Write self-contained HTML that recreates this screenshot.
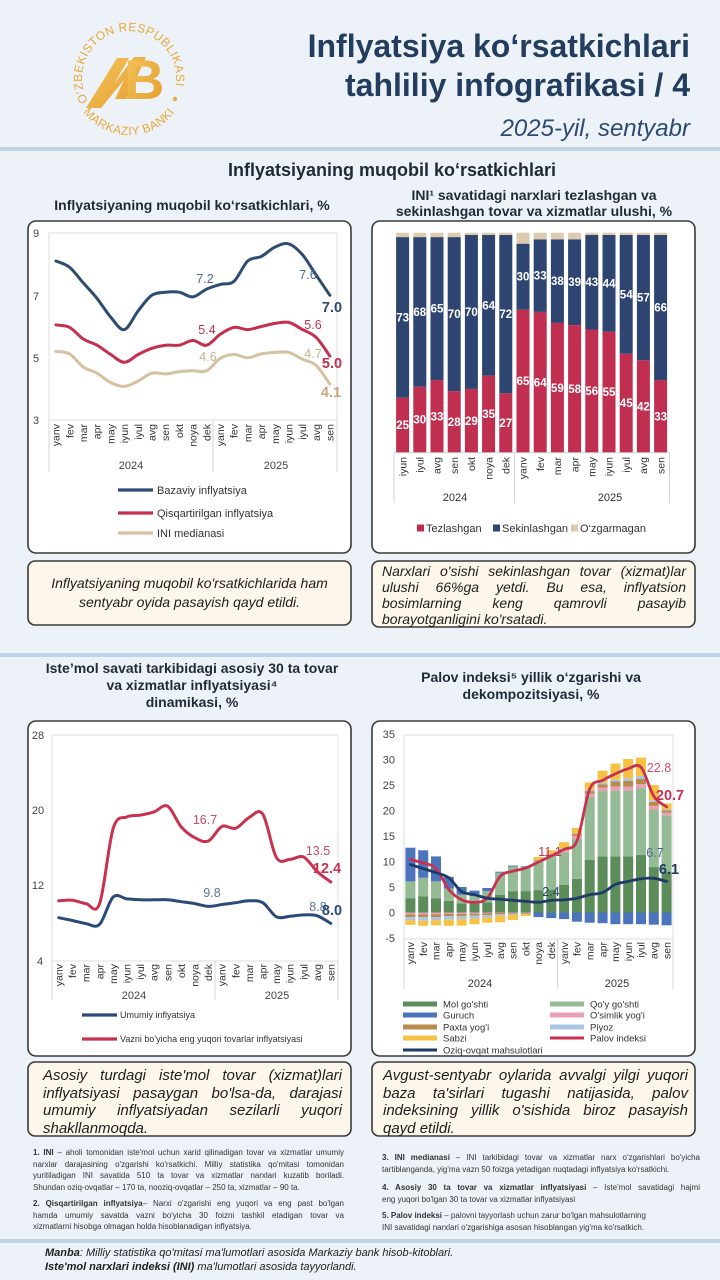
<!DOCTYPE html>
<html><head><meta charset="utf-8">
<style>
html,body{margin:0;padding:0}
body{width:720px;height:1280px;position:relative;overflow:hidden;background:#edf2f8;font-family:"Liberation Sans",Arial,sans-serif;}
svg{position:absolute;left:0;top:0}
.p{position:absolute;font-style:italic;color:#1e1e1e;}
.j{text-align:justify;text-align-last:justify;}
.fn{position:absolute;font-size:8px;color:#333;line-height:11.6px;}
.fn div{white-space:nowrap}
.fn .j{white-space:normal}
.mb{position:absolute;left:45px;top:1246px;font-size:11px;font-style:italic;color:#1e1e1e;line-height:14px;}
</style></head>
<body>
<svg width="720" height="1280" viewBox="0 0 720 1280" font-family="Liberation Sans, Arial, sans-serif">
<defs>
<linearGradient id="gold" x1="0" y1="0" x2="1" y2="1"><stop offset="0" stop-color="#f5c65c"/><stop offset="1" stop-color="#e29d2e"/></linearGradient>
<path id="arcTop" d="M90.5,105 A47,47 0 1,1 174.4,90.2" fill="none"/>
<path id="arcBot" d="M77.3,102.1 A57,57 0 0,0 180.7,102.1" fill="none"/>
</defs>

<!-- logo -->
<g fill="#e8a83a">
<text font-size="12" letter-spacing="0.4"><textPath href="#arcTop" startOffset="50%" text-anchor="middle">O‘ZBEKISTON RESPUBLIKASI</textPath></text>
<text font-size="12" letter-spacing="0.4"><textPath href="#arcBot" startOffset="50%" text-anchor="middle">MARKAZIY BANKI</textPath></text>
<circle cx="175" cy="99" r="2.2"/>
</g>
<polygon points="86,108 117,58 129,58 114,84 134,57 146,57 127,99 115,99 124,80 101,108" fill="url(#gold)"/>
<text x="124" y="99" font-size="56" font-weight="bold" fill="url(#gold)">B</text>

<!-- header title -->
<g fill="#223d5e" text-anchor="end">
<text x="690" y="57" font-size="32" font-weight="bold">Inflyatsiya ko‘rsatkichlari</text>
<text x="690" y="96" font-size="32" font-weight="bold">tahliliy infografikasi / 4</text>
<text x="690" y="136" font-size="24" font-style="italic" fill="#2b4a74">2025-yil, sentyabr</text>
</g>

<!-- separators -->
<rect x="0" y="147" width="720" height="4" fill="#bfd2e6"/>
<rect x="0" y="653" width="720" height="4" fill="#bfd2e6"/>
<rect x="0" y="1239" width="720" height="4" fill="#bfd2e6"/>

<!-- section / chart titles -->
<g fill="#1f2a36" font-weight="bold" text-anchor="middle">
<text x="392" y="176" font-size="18">Inflyatsiyaning muqobil ko‘rsatkichlari</text>
<text x="192" y="210" font-size="14">Inflyatsiyaning muqobil ko‘rsatkichlari, %</text>
<text x="534" y="200" font-size="14">INI¹ savatidagi narxlari tezlashgan va</text>
<text x="534" y="216" font-size="14">sekinlashgan tovar va xizmatlar ulushi, %</text>
<text x="192" y="673" font-size="14">Iste’mol savati tarkibidagi asosiy 30 ta tovar</text>
<text x="192" y="690" font-size="14">va xizmatlar inflyatsiyasi⁴</text>
<text x="192" y="707" font-size="14">dinamikasi, %</text>
<text x="531" y="682" font-size="14">Palov indeksi⁵ yillik o‘zgarishi va</text>
<text x="531" y="699" font-size="14">dekompozitsiyasi, %</text>
</g>

<!-- boxes -->
<g stroke="#3a3a3a" stroke-width="1.6">
<rect x="28" y="221" width="323" height="332" rx="8" fill="#fff"/>
<rect x="372" y="221" width="323" height="332" rx="8" fill="#fff"/>
<rect x="28" y="561" width="323" height="64" rx="7" fill="#fdf6ea"/>
<rect x="372" y="561" width="323" height="66" rx="7" fill="#fdf6ea"/>
<rect x="28" y="721" width="323" height="335" rx="8" fill="#fff"/>
<rect x="372" y="721" width="323" height="335" rx="8" fill="#fff"/>
<rect x="28" y="1062" width="323" height="74" rx="7" fill="#fdf6ea"/>
<rect x="372" y="1062" width="323" height="74" rx="7" fill="#fdf6ea"/>
</g>

<!-- ================= CHART 1 ================= -->
<rect x="49" y="233" width="288" height="187" fill="none" stroke="#dedede" stroke-width="1"/>
<g stroke="#d4d4d4" stroke-width="1"><line x1="49" y1="420" x2="49" y2="472"/><line x1="213" y1="420" x2="213" y2="472"/><line x1="337" y1="420" x2="337" y2="472"/></g>
<g font-size="11" fill="#444" text-anchor="middle">
<text x="36" y="237">9</text><text x="36" y="300">7</text><text x="36" y="362">5</text><text x="36" y="424">3</text>
<text x="131" y="469">2024</text><text x="276" y="469">2025</text>
</g>
<g font-size="10.5" fill="#333" text-anchor="end">
<text transform="translate(55.9,424) rotate(-90)" dy="0.35em">yanv</text>
<text transform="translate(69.6,424) rotate(-90)" dy="0.35em">fev</text>
<text transform="translate(83.3,424) rotate(-90)" dy="0.35em">mar</text>
<text transform="translate(97,424) rotate(-90)" dy="0.35em">apr</text>
<text transform="translate(110.7,424) rotate(-90)" dy="0.35em">may</text>
<text transform="translate(124.4,424) rotate(-90)" dy="0.35em">iyun</text>
<text transform="translate(138.1,424) rotate(-90)" dy="0.35em">iyul</text>
<text transform="translate(151.8,424) rotate(-90)" dy="0.35em">avg</text>
<text transform="translate(165.5,424) rotate(-90)" dy="0.35em">sen</text>
<text transform="translate(179.2,424) rotate(-90)" dy="0.35em">okt</text>
<text transform="translate(192.9,424) rotate(-90)" dy="0.35em">noya</text>
<text transform="translate(206.6,424) rotate(-90)" dy="0.35em">dek</text>
<text transform="translate(220.3,424) rotate(-90)" dy="0.35em">yanv</text>
<text transform="translate(234,424) rotate(-90)" dy="0.35em">fev</text>
<text transform="translate(247.7,424) rotate(-90)" dy="0.35em">mar</text>
<text transform="translate(261.4,424) rotate(-90)" dy="0.35em">apr</text>
<text transform="translate(275.1,424) rotate(-90)" dy="0.35em">may</text>
<text transform="translate(288.8,424) rotate(-90)" dy="0.35em">iyun</text>
<text transform="translate(302.5,424) rotate(-90)" dy="0.35em">iyul</text>
<text transform="translate(316.2,424) rotate(-90)" dy="0.35em">avg</text>
<text transform="translate(329.9,424) rotate(-90)" dy="0.35em">sen</text>
</g>
<g fill="none" stroke-width="3" stroke-linejoin="round" stroke-linecap="round">
<polyline class="sm" stroke="#d5c1a0" points="55.9,351.4 69.6,353.9 83.3,367 97,373.2 110.7,382.6 124.4,386.3 138.1,381 151.8,373.2 165.5,373.9 179.2,371.7 192.9,370.8 206.6,370.8 220.3,358.3 234,354.5 247.7,357.7 261.4,353.9 275.1,352.4 288.8,352.4 302.5,359.2 316.2,365.5 329.9,384.2"/>
<polyline class="sm" stroke="#c5304f" points="55.9,324.9 69.6,327.4 83.3,339 97,345.2 110.7,354.5 124.4,362.3 138.1,354.5 151.8,348.3 165.5,345.2 179.2,345.2 192.9,340.5 206.6,345.2 220.3,334.3 234,327.4 247.7,329.6 261.4,326.5 275.1,323.4 288.8,322.4 302.5,329.6 316.2,337.4 329.9,356.1"/>
<polyline class="sm" stroke="#2e4b74" points="55.9,261 69.6,267.3 83.3,282.9 97,298.4 110.7,317.1 124.4,329.6 138.1,310.9 151.8,295.3 165.5,292.2 179.2,292.2 192.9,296.9 206.6,289.1 220.3,284.4 234,281.3 247.7,261 261.4,256.4 275.1,247 288.8,243.9 302.5,254.8 316.2,275.1 329.9,295.3"/>
</g>
<g font-size="12.5" text-anchor="middle">
<text x="205" y="283" fill="#4a6890">7.2</text>
<text x="308" y="279" fill="#4a6890">7.6</text>
<text x="332" y="312" fill="#2e4b74" font-weight="bold" font-size="14.5">7.0</text>
<text x="207" y="334" fill="#c5304f">5.4</text>
<text x="313" y="329" fill="#c5304f">5.6</text>
<text x="332" y="368" fill="#c5304f" font-weight="bold" font-size="14.5">5.0</text>
<text x="208" y="361" fill="#c9b28e">4.6</text>
<text x="313" y="358" fill="#c9b28e">4.7</text>
<text x="331" y="397" fill="#c4a679" font-weight="bold" font-size="14.5">4.1</text>
</g>
<g stroke-width="3.2">
<line x1="118" y1="490" x2="153" y2="490" stroke="#2e4b74"/>
<line x1="118" y1="513" x2="153" y2="513" stroke="#c5304f"/>
<line x1="118" y1="533" x2="153" y2="533" stroke="#d5c1a0"/>
</g>
<g font-size="11" fill="#333">
<text x="157" y="494">Bazaviy inflyatsiya</text>
<text x="157" y="517">Qisqartirilgan inflyatsiya</text>
<text x="157" y="537">INI medianasi</text>
</g>

<!-- ================= CHART 2 ================= -->
<g fill="#c02f50">
<rect x="396.1" y="397.7" width="13" height="55"/><rect x="413.3" y="386.7" width="13" height="66"/><rect x="430.5" y="380.1" width="13" height="72.6"/><rect x="447.7" y="391.1" width="13" height="61.6"/><rect x="464.9" y="388.9" width="13" height="63.8"/><rect x="482.1" y="375.7" width="13" height="77"/><rect x="499.3" y="393.3" width="13" height="59.4"/><rect x="516.5" y="309.7" width="13" height="143"/><rect x="533.7" y="311.9" width="13" height="140.8"/><rect x="550.9" y="322.9" width="13" height="129.8"/><rect x="568.1" y="325.1" width="13" height="127.6"/><rect x="585.3" y="329.5" width="13" height="123.2"/><rect x="602.5" y="331.7" width="13" height="121"/><rect x="619.7" y="353.7" width="13" height="99"/><rect x="636.9" y="360.3" width="13" height="92.4"/><rect x="654.1" y="380.1" width="13" height="72.6"/>
</g>
<g fill="#2d4570">
<rect x="396.1" y="237.1" width="13" height="160.6"/><rect x="413.3" y="237.1" width="13" height="149.6"/><rect x="430.5" y="237.1" width="13" height="143"/><rect x="447.7" y="237.1" width="13" height="154"/><rect x="464.9" y="234.9" width="13" height="154"/><rect x="482.1" y="234.9" width="13" height="140.8"/><rect x="499.3" y="234.9" width="13" height="158.4"/><rect x="516.5" y="243.7" width="13" height="66"/><rect x="533.7" y="239.3" width="13" height="72.6"/><rect x="550.9" y="239.3" width="13" height="83.6"/><rect x="568.1" y="239.3" width="13" height="85.8"/><rect x="585.3" y="234.9" width="13" height="94.6"/><rect x="602.5" y="234.9" width="13" height="96.8"/><rect x="619.7" y="234.9" width="13" height="118.8"/><rect x="636.9" y="234.9" width="13" height="125.4"/><rect x="654.1" y="234.9" width="13" height="145.2"/>
</g>
<g fill="#dccbb0">
<rect x="396.1" y="232.7" width="13" height="4.4"/><rect x="413.3" y="232.7" width="13" height="4.4"/><rect x="430.5" y="232.7" width="13" height="4.4"/><rect x="447.7" y="232.7" width="13" height="4.4"/><rect x="464.9" y="232.7" width="13" height="2.2"/><rect x="482.1" y="232.7" width="13" height="2.2"/><rect x="499.3" y="232.7" width="13" height="2.2"/><rect x="516.5" y="232.7" width="13" height="11"/><rect x="533.7" y="232.7" width="13" height="6.6"/><rect x="550.9" y="232.7" width="13" height="6.6"/><rect x="568.1" y="232.7" width="13" height="6.6"/><rect x="585.3" y="232.7" width="13" height="2.2"/><rect x="602.5" y="232.7" width="13" height="2.2"/><rect x="619.7" y="232.7" width="13" height="2.2"/><rect x="636.9" y="232.7" width="13" height="2.2"/><rect x="654.1" y="232.7" width="13" height="2.2"/>
</g>
<g font-size="11.5" font-weight="bold" fill="#fff" text-anchor="middle">
<text x="402.6" y="429.2">25</text><text x="419.8" y="423.7">30</text><text x="437" y="420.4">33</text><text x="454.2" y="425.9">28</text><text x="471.4" y="424.8">29</text><text x="488.6" y="418.2">35</text><text x="505.8" y="427">27</text><text x="523" y="385.2">65</text><text x="540.2" y="386.3">64</text><text x="557.4" y="391.8">59</text><text x="574.6" y="392.9">58</text><text x="591.8" y="395.1">56</text><text x="609" y="396.2">55</text><text x="626.2" y="407.2">45</text><text x="643.4" y="410.5">42</text><text x="660.6" y="420.4">33</text>
<text x="402.6" y="321.4">73</text><text x="419.8" y="315.9">68</text><text x="437" y="312.6">65</text><text x="454.2" y="318.1">70</text><text x="471.4" y="315.9">70</text><text x="488.6" y="309.3">64</text><text x="505.8" y="318.1">72</text><text x="523" y="280.7">30</text><text x="540.2" y="279.6">33</text><text x="557.4" y="285.1">38</text><text x="574.6" y="286.2">39</text><text x="591.8" y="286.2">43</text><text x="609" y="287.3">44</text><text x="626.2" y="298.3">54</text><text x="643.4" y="301.6">57</text><text x="660.6" y="311.5">66</text>
</g>
<g stroke="#d4d4d4" stroke-width="1"><line x1="394" y1="452.7" x2="669.5" y2="452.7"/><line x1="394" y1="452.7" x2="394" y2="503"/><line x1="514.4" y1="452.7" x2="514.4" y2="503"/><line x1="669.5" y1="452.7" x2="669.5" y2="503"/></g>
<g font-size="10.5" fill="#333" text-anchor="end">
<text transform="translate(402.6,457) rotate(-90)" dy="0.35em">iyun</text>
<text transform="translate(419.8,457) rotate(-90)" dy="0.35em">iyul</text>
<text transform="translate(437,457) rotate(-90)" dy="0.35em">avg</text>
<text transform="translate(454.2,457) rotate(-90)" dy="0.35em">sen</text>
<text transform="translate(471.4,457) rotate(-90)" dy="0.35em">okt</text>
<text transform="translate(488.6,457) rotate(-90)" dy="0.35em">noya</text>
<text transform="translate(505.8,457) rotate(-90)" dy="0.35em">dek</text>
<text transform="translate(523,457) rotate(-90)" dy="0.35em">yanv</text>
<text transform="translate(540.2,457) rotate(-90)" dy="0.35em">fev</text>
<text transform="translate(557.4,457) rotate(-90)" dy="0.35em">mar</text>
<text transform="translate(574.6,457) rotate(-90)" dy="0.35em">apr</text>
<text transform="translate(591.8,457) rotate(-90)" dy="0.35em">may</text>
<text transform="translate(609,457) rotate(-90)" dy="0.35em">iyun</text>
<text transform="translate(626.2,457) rotate(-90)" dy="0.35em">iyul</text>
<text transform="translate(643.4,457) rotate(-90)" dy="0.35em">avg</text>
<text transform="translate(660.6,457) rotate(-90)" dy="0.35em">sen</text>
</g>
<g font-size="11" fill="#333">
<text x="455" y="501" text-anchor="middle">2024</text><text x="610" y="501" text-anchor="middle">2025</text>
<rect x="417" y="524.5" width="7" height="7" fill="#c02f50"/><text x="426" y="532">Tezlashgan</text>
<rect x="493" y="524.5" width="7" height="7" fill="#2d4570"/><text x="502" y="532">Sekinlashgan</text>
<rect x="571" y="524.5" width="7" height="7" fill="#dccbb0"/><text x="580" y="532">O‘zgarmagan</text>
</g>

<!-- ================= CHART 3 ================= -->
<rect x="52" y="735" width="286" height="226" fill="none" stroke="#dedede" stroke-width="1"/>
<g stroke="#d4d4d4" stroke-width="1"><line x1="52" y1="961" x2="52" y2="1000"/><line x1="215" y1="961" x2="215" y2="1000"/><line x1="338" y1="961" x2="338" y2="1000"/></g>
<g font-size="11" fill="#444" text-anchor="middle">
<text x="38" y="739">28</text><text x="38" y="814">20</text><text x="38" y="889">12</text><text x="40" y="965">4</text>
<text x="134" y="999">2024</text><text x="277" y="999">2025</text>
</g>
<g font-size="10.5" fill="#333" text-anchor="end">
<text transform="translate(58.8,964) rotate(-90)" dy="0.35em">yanv</text>
<text transform="translate(72.4,964) rotate(-90)" dy="0.35em">fev</text>
<text transform="translate(86,964) rotate(-90)" dy="0.35em">mar</text>
<text transform="translate(99.6,964) rotate(-90)" dy="0.35em">apr</text>
<text transform="translate(113.2,964) rotate(-90)" dy="0.35em">may</text>
<text transform="translate(126.8,964) rotate(-90)" dy="0.35em">iyun</text>
<text transform="translate(140.4,964) rotate(-90)" dy="0.35em">iyul</text>
<text transform="translate(154,964) rotate(-90)" dy="0.35em">avg</text>
<text transform="translate(167.6,964) rotate(-90)" dy="0.35em">sen</text>
<text transform="translate(181.2,964) rotate(-90)" dy="0.35em">okt</text>
<text transform="translate(194.8,964) rotate(-90)" dy="0.35em">noya</text>
<text transform="translate(208.4,964) rotate(-90)" dy="0.35em">dek</text>
<text transform="translate(222,964) rotate(-90)" dy="0.35em">yanv</text>
<text transform="translate(235.6,964) rotate(-90)" dy="0.35em">fev</text>
<text transform="translate(249.2,964) rotate(-90)" dy="0.35em">mar</text>
<text transform="translate(262.8,964) rotate(-90)" dy="0.35em">apr</text>
<text transform="translate(276.4,964) rotate(-90)" dy="0.35em">may</text>
<text transform="translate(290,964) rotate(-90)" dy="0.35em">iyun</text>
<text transform="translate(303.6,964) rotate(-90)" dy="0.35em">iyul</text>
<text transform="translate(317.2,964) rotate(-90)" dy="0.35em">avg</text>
<text transform="translate(330.8,964) rotate(-90)" dy="0.35em">sen</text>
</g>
<g fill="none" stroke-width="3" stroke-linejoin="round" stroke-linecap="round">
<polyline class="sm" stroke="#2b4a78" points="58.8,917.7 72.4,920.5 86,923.6 99.6,924.3 113.2,897 126.8,898.9 140.4,899.8 154,899.8 167.6,899.8 181.2,901.7 194.8,903.6 208.4,906.4 222,904.5 235.6,902.7 249.2,900.8 262.8,902.7 276.4,916.8 290,916.3 303.6,914.9 317.2,915.8 330.8,923.4"/>
<polyline class="sm" stroke="#c8324f" points="58.8,900.8 72.4,900.3 86,903.6 99.6,903.6 113.2,828.3 126.8,817 140.4,815.1 154,811.9 167.6,806.2 181.2,826.9 194.8,837.7 208.4,841 222,826.4 235.6,828.3 249.2,817.5 262.8,814.2 276.4,857.5 290,859.4 303.6,857 317.2,871.6 330.8,882"/>
</g>
<g font-size="12.5" text-anchor="middle">
<text x="205" y="824" fill="#cc4a66">16.7</text>
<text x="318" y="855" fill="#cc4a66">13.5</text>
<text x="327" y="873" fill="#c8324f" font-weight="bold" font-size="14.5">12.4</text>
<text x="212" y="897" fill="#5a7599">9.8</text>
<text x="318" y="911" fill="#5a7599">8.8</text>
<text x="332" y="915" fill="#2b4a78" font-weight="bold" font-size="14.5">8.0</text>
</g>
<g stroke-width="3.2">
<line x1="82" y1="1015" x2="117" y2="1015" stroke="#2b4a78"/>
<line x1="82" y1="1039" x2="117" y2="1039" stroke="#c8324f"/>
</g>
<g font-size="9" fill="#333">
<text x="120" y="1018">Umumiy inflyatsiya</text>
<text x="120" y="1042">Vazni bo'yicha eng yuqori tovarlar inflyatsiyasi</text>
</g>

<!-- ================= CHART 4 ================= -->
<rect x="404" y="735" width="269" height="204" fill="none" stroke="#dedede" stroke-width="1"/>
<g font-size="11" fill="#444" text-anchor="end">
<text x="395" y="738">35</text><text x="395" y="763.5">30</text><text x="395" y="789">25</text><text x="395" y="814.5">20</text><text x="395" y="840">15</text><text x="395" y="865.5">10</text><text x="395" y="891">5</text><text x="395" y="916.5">0</text><text x="395" y="942">-5</text>
</g>
<g fill="#5b8c5a">
<rect x="405.4" y="898.2" width="10" height="14.3"/><rect x="418.2" y="896.2" width="10" height="16.3"/><rect x="431" y="898.2" width="10" height="14.3"/><rect x="443.8" y="900.8" width="10" height="11.7"/><rect x="456.6" y="903.3" width="10" height="9.2"/><rect x="469.5" y="903.3" width="10" height="9.2"/><rect x="482.3" y="902.3" width="10" height="10.2"/><rect x="495.1" y="894.7" width="10" height="17.8"/><rect x="507.9" y="891.1" width="10" height="21.4"/><rect x="520.7" y="891.1" width="10" height="21.4"/><rect x="533.5" y="890.1" width="10" height="22.4"/><rect x="546.3" y="889.6" width="10" height="22.9"/><rect x="559.1" y="885" width="10" height="27.5"/><rect x="571.9" y="878.8" width="10" height="33.7"/><rect x="584.7" y="860" width="10" height="52.5"/><rect x="597.6" y="856.4" width="10" height="56.1"/><rect x="610.4" y="856.4" width="10" height="56.1"/><rect x="623.2" y="856.4" width="10" height="56.1"/><rect x="636" y="854.9" width="10" height="57.6"/><rect x="648.8" y="867.1" width="10" height="45.4"/><rect x="661.6" y="871.7" width="10" height="40.8"/>
</g>
<g fill="#94ba96">
<rect x="405.4" y="881.4" width="10" height="16.8"/><rect x="418.2" y="877.8" width="10" height="18.4"/><rect x="431" y="881.4" width="10" height="16.8"/><rect x="443.8" y="888.5" width="10" height="12.3"/><rect x="456.6" y="894.7" width="10" height="8.6"/><rect x="469.5" y="896.2" width="10" height="7.1"/><rect x="482.3" y="891.1" width="10" height="11.2"/><rect x="495.1" y="872.7" width="10" height="22"/><rect x="507.9" y="866.6" width="10" height="24.5"/><rect x="520.7" y="866.6" width="10" height="24.5"/><rect x="533.5" y="861.5" width="10" height="28.6"/><rect x="546.3" y="855.9" width="10" height="33.7"/><rect x="559.1" y="852.3" width="10" height="32.7"/><rect x="571.9" y="839.1" width="10" height="39.7"/><rect x="584.7" y="796.7" width="10" height="63.3"/><rect x="597.6" y="791.1" width="10" height="65.3"/><rect x="610.4" y="790.6" width="10" height="65.8"/><rect x="623.2" y="790.6" width="10" height="65.8"/><rect x="636" y="788.1" width="10" height="66.8"/><rect x="648.8" y="810" width="10" height="57.1"/><rect x="661.6" y="815.6" width="10" height="56.1"/>
</g>
<g fill="#4b74bd">
<rect x="405.4" y="847.7" width="10" height="33.7"/><rect x="418.2" y="850.3" width="10" height="27.5"/><rect x="431" y="856.4" width="10" height="25"/><rect x="443.8" y="876.8" width="10" height="11.7"/><rect x="456.6" y="887" width="10" height="7.7"/><rect x="469.5" y="890.6" width="10" height="5.6"/><rect x="482.3" y="888" width="10" height="3.1"/><rect x="495.1" y="871.7" width="10" height="1"/><rect x="507.9" y="865.6" width="10" height="1"/><rect x="520.7" y="866.1" width="10" height="0.5"/><rect x="533.5" y="912.5" width="10" height="4.6"/><rect x="546.3" y="912.5" width="10" height="5.6"/><rect x="559.1" y="912.5" width="10" height="6.6"/><rect x="571.9" y="912.5" width="10" height="9.2"/><rect x="584.7" y="912.5" width="10" height="10.2"/><rect x="597.6" y="912.5" width="10" height="10.7"/><rect x="610.4" y="912.5" width="10" height="11.7"/><rect x="623.2" y="912.5" width="10" height="11.7"/><rect x="636" y="912.5" width="10" height="11.7"/><rect x="648.8" y="912.5" width="10" height="12.2"/><rect x="661.6" y="912.5" width="10" height="12.8"/>
</g>
<g fill="#eaa0b3">
<rect x="405.4" y="912.5" width="10" height="2"/><rect x="418.2" y="912.5" width="10" height="2"/><rect x="431" y="912.5" width="10" height="2"/><rect x="443.8" y="912.5" width="10" height="1.5"/><rect x="456.6" y="912.5" width="10" height="1.5"/><rect x="469.5" y="912.5" width="10" height="1.5"/><rect x="482.3" y="912.5" width="10" height="1"/><rect x="495.1" y="912.5" width="10" height="0.5"/><rect x="507.9" y="912.5" width="10" height="0.5"/><rect x="520.7" y="912.5" width="10" height="0.5"/><rect x="533.5" y="860.5" width="10" height="1"/><rect x="546.3" y="854.4" width="10" height="1.5"/><rect x="559.1" y="849.8" width="10" height="2.6"/><rect x="571.9" y="835.5" width="10" height="3.6"/><rect x="584.7" y="793.7" width="10" height="3.1"/><rect x="597.6" y="787.6" width="10" height="3.6"/><rect x="610.4" y="786.5" width="10" height="4.1"/><rect x="623.2" y="786.5" width="10" height="4.1"/><rect x="636" y="784" width="10" height="4.1"/><rect x="648.8" y="805.9" width="10" height="4.1"/><rect x="661.6" y="812.5" width="10" height="3.1"/>
</g>
<g fill="#b98b4c">
<rect x="405.4" y="914.5" width="10" height="2.6"/><rect x="418.2" y="914.5" width="10" height="2.6"/><rect x="431" y="914.5" width="10" height="2.6"/><rect x="443.8" y="914" width="10" height="2"/><rect x="456.6" y="914" width="10" height="2"/><rect x="469.5" y="914" width="10" height="1.5"/><rect x="482.3" y="913.5" width="10" height="1.5"/><rect x="495.1" y="913" width="10" height="1"/><rect x="507.9" y="913" width="10" height="0.5"/><rect x="520.7" y="913" width="10" height="0.5"/><rect x="533.5" y="860" width="10" height="0.5"/><rect x="546.3" y="853.9" width="10" height="0.5"/><rect x="559.1" y="848.8" width="10" height="1"/><rect x="571.9" y="834" width="10" height="1.5"/><rect x="584.7" y="791.1" width="10" height="2.6"/><rect x="597.6" y="784.5" width="10" height="3.1"/><rect x="610.4" y="781.4" width="10" height="5.1"/><rect x="623.2" y="780.9" width="10" height="5.6"/><rect x="636" y="778.9" width="10" height="5.1"/><rect x="648.8" y="801.8" width="10" height="4.1"/><rect x="661.6" y="810.5" width="10" height="2"/>
</g>
<g fill="#aac5e3">
<rect x="405.4" y="917.1" width="10" height="3.1"/><rect x="418.2" y="917.1" width="10" height="3.6"/><rect x="431" y="917.1" width="10" height="3.1"/><rect x="443.8" y="916.1" width="10" height="3.6"/><rect x="456.6" y="916.1" width="10" height="3.1"/><rect x="469.5" y="915.6" width="10" height="3.1"/><rect x="482.3" y="915.1" width="10" height="2.6"/><rect x="495.1" y="914" width="10" height="1.5"/><rect x="507.9" y="913.5" width="10" height="1"/><rect x="520.7" y="913.5" width="10" height="0.5"/><rect x="546.3" y="853.4" width="10" height="0.5"/><rect x="559.1" y="848.3" width="10" height="0.5"/><rect x="571.9" y="833.5" width="10" height="0.5"/><rect x="584.7" y="789.6" width="10" height="1.5"/><rect x="597.6" y="783" width="10" height="1.5"/><rect x="610.4" y="779.4" width="10" height="2"/><rect x="623.2" y="778.4" width="10" height="2.6"/><rect x="636" y="775.8" width="10" height="3.1"/><rect x="648.8" y="800.3" width="10" height="1.5"/><rect x="661.6" y="809.5" width="10" height="1"/>
</g>
<g fill="#f7c143">
<rect x="405.4" y="920.2" width="10" height="4.6"/><rect x="418.2" y="920.7" width="10" height="5.1"/><rect x="431" y="920.2" width="10" height="5.1"/><rect x="443.8" y="919.7" width="10" height="6.1"/><rect x="456.6" y="919.1" width="10" height="6.6"/><rect x="469.5" y="918.6" width="10" height="5.6"/><rect x="482.3" y="917.6" width="10" height="5.1"/><rect x="495.1" y="915.6" width="10" height="6.6"/><rect x="507.9" y="914.5" width="10" height="5.6"/><rect x="520.7" y="914" width="10" height="2"/><rect x="533.5" y="857" width="10" height="3.1"/><rect x="546.3" y="850.3" width="10" height="3.1"/><rect x="559.1" y="842.1" width="10" height="6.1"/><rect x="571.9" y="827.9" width="10" height="5.6"/><rect x="584.7" y="782.5" width="10" height="7.1"/><rect x="597.6" y="770.7" width="10" height="12.2"/><rect x="610.4" y="763.6" width="10" height="15.8"/><rect x="623.2" y="759" width="10" height="19.4"/><rect x="636" y="757.5" width="10" height="18.4"/><rect x="648.8" y="785" width="10" height="15.3"/><rect x="661.6" y="803.4" width="10" height="6.1"/>
</g>
<g fill="none" stroke-width="2.8" stroke-linejoin="round" stroke-linecap="round">
<polyline class="sm" stroke="#c8324f" points="410.4,859.5 423.2,863 436,868.6 448.8,889.5 461.6,899.8 474.5,902.3 487.3,898.2 500.1,876.3 512.9,871.2 525.7,868.1 538.5,862 551.3,855.9 564.1,849.3 576.9,841.1 589.7,789.1 602.6,780.4 615.4,773.8 628.2,768.7 641,767.2 653.8,796.2 666.6,806.9"/>
<polyline class="sm" stroke="#1e3a66" points="410.4,864.6 423.2,868.6 436,872.7 448.8,877.8 461.6,891.6 474.5,894.7 487.3,898.2 500.1,899.2 512.9,900.3 525.7,901.3 538.5,902.3 551.3,900.3 564.1,899.8 576.9,898.2 589.7,894.7 602.6,892.6 615.4,884.5 628.2,881.4 641,878.8 653.8,878.3 666.6,881.4"/>
</g>
<g font-size="12.5" text-anchor="middle">
<text x="550" y="856" fill="#c8324f">11.1</text>
<text x="551" y="896" fill="#2a4770">2.4</text>
<text x="659" y="772" fill="#d0506a">22.8</text>
<text x="670" y="800" fill="#c8324f" font-weight="bold" font-size="14.5">20.7</text>
<text x="655" y="857" fill="#4a6a90">6.7</text>
<text x="669" y="874" fill="#1e3a66" font-weight="bold" font-size="14.5">6.1</text>
</g>
<g stroke="#d4d4d4" stroke-width="1"><line x1="404" y1="939" x2="404" y2="989"/><line x1="557.7" y1="939" x2="557.7" y2="989"/><line x1="673" y1="939" x2="673" y2="989"/></g>
<g font-size="10.5" fill="#333" text-anchor="end">
<text transform="translate(410.4,942) rotate(-90)" dy="0.35em">yanv</text>
<text transform="translate(423.2,942) rotate(-90)" dy="0.35em">fev</text>
<text transform="translate(436,942) rotate(-90)" dy="0.35em">mar</text>
<text transform="translate(448.8,942) rotate(-90)" dy="0.35em">apr</text>
<text transform="translate(461.6,942) rotate(-90)" dy="0.35em">may</text>
<text transform="translate(474.5,942) rotate(-90)" dy="0.35em">iyun</text>
<text transform="translate(487.3,942) rotate(-90)" dy="0.35em">iyul</text>
<text transform="translate(500.1,942) rotate(-90)" dy="0.35em">avg</text>
<text transform="translate(512.9,942) rotate(-90)" dy="0.35em">sen</text>
<text transform="translate(525.7,942) rotate(-90)" dy="0.35em">okt</text>
<text transform="translate(538.5,942) rotate(-90)" dy="0.35em">noya</text>
<text transform="translate(551.3,942) rotate(-90)" dy="0.35em">dek</text>
<text transform="translate(564.1,942) rotate(-90)" dy="0.35em">yanv</text>
<text transform="translate(576.9,942) rotate(-90)" dy="0.35em">fev</text>
<text transform="translate(589.7,942) rotate(-90)" dy="0.35em">mar</text>
<text transform="translate(602.6,942) rotate(-90)" dy="0.35em">apr</text>
<text transform="translate(615.4,942) rotate(-90)" dy="0.35em">may</text>
<text transform="translate(628.2,942) rotate(-90)" dy="0.35em">iyun</text>
<text transform="translate(641,942) rotate(-90)" dy="0.35em">iyul</text>
<text transform="translate(653.8,942) rotate(-90)" dy="0.35em">avg</text>
<text transform="translate(666.6,942) rotate(-90)" dy="0.35em">sen</text>
</g>
<g font-size="11" fill="#333" text-anchor="middle"><text x="480" y="987">2024</text><text x="617" y="987">2025</text></g>
<g>
<rect x="403" y="1001.5" width="34" height="5" fill="#5b8c5a"/>
<rect x="403" y="1012.5" width="34" height="5" fill="#4b74bd"/>
<rect x="403" y="1024.5" width="34" height="5" fill="#b98b4c"/>
<rect x="403" y="1035.5" width="34" height="5" fill="#f7c143"/>
<line x1="403" y1="1050" x2="437" y2="1050" stroke="#1e3a66" stroke-width="3"/>
<rect x="550" y="1001.5" width="34" height="5" fill="#94ba96"/>
<rect x="550" y="1012.5" width="34" height="5" fill="#eaa0b3"/>
<rect x="550" y="1024.5" width="34" height="5" fill="#aac5e3"/>
<line x1="550" y1="1038" x2="584" y2="1038" stroke="#c8324f" stroke-width="3"/>
</g>
<g font-size="9.5" fill="#333">
<text x="443" y="1007.5">Mol go'shti</text>
<text x="443" y="1018.5">Guruch</text>
<text x="443" y="1030.5">Paxta yog'i</text>
<text x="443" y="1041.5">Sabzi</text>
<text x="443" y="1053.5">Oziq-ovqat mahsulotlari</text>
<text x="590" y="1007.5">Qo'y go'shti</text>
<text x="590" y="1018.5">O'simlik yog'i</text>
<text x="590" y="1030.5">Piyoz</text>
<text x="590" y="1041.5">Palov indeksi</text>
</g>
</svg>

<!-- text boxes -->
<div class="p" style="left:36px;top:574px;width:307px;font-size:14px;line-height:19px;text-align:center;">
<div>Inflyatsiyaning muqobil ko'rsatkichlarida ham</div>
<div>sentyabr oyida pasayish qayd etildi.</div>
</div>
<div class="p" style="left:382px;top:563px;width:304px;font-size:14px;line-height:16px;">
<div class="j">Narxlari o'sishi sekinlashgan tovar (xizmat)lar</div>
<div class="j">ulushi 66%ga yetdi. Bu esa, inflyatsion</div>
<div class="j">bosimlarning keng qamrovli pasayib</div>
<div>borayotganligini ko'rsatadi.</div>
</div>
<div class="p" style="left:43px;top:1067px;width:299px;font-size:15px;line-height:17.5px;">
<div class="j">Asosiy turdagi iste'mol tovar (xizmat)lari</div>
<div class="j">inflyatsiyasi pasaygan bo'lsa-da, darajasi</div>
<div class="j">umumiy inflyatsiyadan sezilarli yuqori</div>
<div>shakllanmoqda.</div>
</div>
<div class="p" style="left:383px;top:1067px;width:305px;font-size:15px;line-height:17.5px;">
<div class="j">Avgust-sentyabr oylarida avvalgi yilgi yuqori</div>
<div class="j">baza ta'sirlari tugashi natijasida, palov</div>
<div class="j">indeksining yillik o'sishida biroz pasayish</div>
<div>qayd etildi.</div>
</div>

<!-- footnotes -->
<div class="fn" style="left:33px;top:1147px;width:311px;">
<div class="j"><b>1. INI</b> – aholi tomonidan iste'mol uchun xarid qilinadigan tovar va xizmatlar umumiy</div>
<div class="j">narxlar darajasining o'zgarishi ko'rsatkichi. Milliy statistika qo'mitasi tomonidan</div>
<div class="j">yuritiladigan INI savatida 510 ta tovar va xizmatlar narxlari kuzatib boriladi.</div>
<div>Shundan oziq-ovqatlar – 170 ta, nooziq-ovqatlar – 250 ta, xizmatlar – 90 ta.</div>
</div>
<div class="fn" style="left:33px;top:1198px;width:311px;">
<div class="j"><b>2. Qisqartirilgan inflyatsiya</b>– Narxi o'zgarishi eng yuqori va eng past bo'lgan</div>
<div class="j">hamda umumiy savatda vazni bo'yicha 30 foizni tashkil etadigan tovar va</div>
<div>xizmatlarni hisobga olmagan holda hisoblanadigan inflyatsiya.</div>
</div>
<div class="fn" style="left:382px;top:1152px;width:318px;">
<div class="j"><b>3. INI medianasi</b> – INI tarkibidagi tovar va xizmatlar narx o'zgarishlari bo'yicha</div>
<div>tartiblanganda, yig'ma vazn 50 foizga yetadigan nuqtadagi inflyatsiya ko'rsatkichi.</div>
</div>
<div class="fn" style="left:382px;top:1182px;width:318px;">
<div class="j"><b>4. Asosiy 30 ta tovar va xizmatlar inflyatsiyasi</b> – Iste'mol savatidagi hajmi</div>
<div>eng yuqori bo'lgan 30 ta tovar va xizmatlar inflyatsiyasi</div>
</div>
<div class="fn" style="left:382px;top:1210px;width:318px;">
<div><b>5. Palov indeksi</b> – palovni tayyorlash uchun zarur bo'lgan mahsulotlarning</div>
<div>INI savatidagi narxlari o'zgarishiga asosan hisoblangan yig'ma ko'rsatkich.</div>
</div>

<div class="mb">
<div><b>Manba</b>: Milliy statistika qo'mitasi ma'lumotlari asosida Markaziy bank hisob-kitoblari.</div>
<div><b>Iste'mol narxlari indeksi (INI)</b> ma'lumotlari asosida tayyorlandi.</div>
</div>
<script>
(function(){
  var pls=document.querySelectorAll('polyline.sm');
  for(var k=0;k<pls.length;k++){
    var pl=pls[k];
    var raw=pl.getAttribute('points').trim().split(/\s+/);
    var pts=[];
    for(var m=0;m<raw.length;m++){var a=raw[m].split(',');pts.push([+a[0],+a[1]]);}
    var d='M'+pts[0][0]+','+pts[0][1];
    for(var i=0;i<pts.length-1;i++){
      var p0=pts[i-1]||pts[i],p1=pts[i],p2=pts[i+1],p3=pts[i+2]||pts[i+1];
      var c1x=p1[0]+(p2[0]-p0[0])/6,c1y=p1[1]+(p2[1]-p0[1])/6;
      var c2x=p2[0]-(p3[0]-p1[0])/6,c2y=p2[1]-(p3[1]-p1[1])/6;
      d+=' C'+c1x.toFixed(2)+','+c1y.toFixed(2)+' '+c2x.toFixed(2)+','+c2y.toFixed(2)+' '+p2[0]+','+p2[1];
    }
    var path=document.createElementNS('http://www.w3.org/2000/svg','path');
    path.setAttribute('d',d);
    path.setAttribute('stroke',pl.getAttribute('stroke'));
    path.setAttribute('fill','none');
    pl.parentNode.replaceChild(path,pl);
  }
})();
</script>
</body></html>
